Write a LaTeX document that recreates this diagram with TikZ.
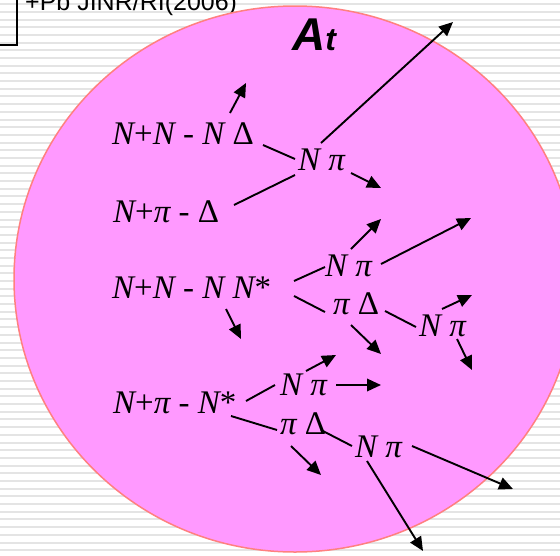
\documentclass[tikz,border=0pt]{standalone}
\usepackage{fontspec}
\setmainfont{Liberation Serif}
\newfontfamily\arialfont{Liberation Sans}
\usetikzlibrary{arrows.meta}
\definecolor{pinkfill}{RGB}{255,153,255}
\definecolor{rimcol}{RGB}{255,128,128}
\definecolor{stripecol}{RGB}{228,228,228}
\newcommand{\iN}{{\itshape N}}
\newcommand{\ipi}{{\itshape π}}
\begin{document}
\begin{tikzpicture}[x=1pt,y=-1pt,
  lbl/.style={anchor=base west, inner sep=0pt, font=\fontsize{33}{38}\selectfont},
  con/.style={line width=1.9pt},
  arr/.style={line width=1.9pt, -{Triangle[length=14pt,width=12.5pt]}}]
\useasboundingbox (0,0) rectangle (560,555);
\fill[white] (0,0) rectangle (560,555);
\foreach \k in {0,...,71} \fill[stripecol] (0,{3.2+7.69*\k}) rectangle (560,{5.2+7.69*\k});
% corner box and title
\draw[line width=1.5pt] (-10,-10) rectangle (17,45);
\node[anchor=base west, inner sep=0pt, font=\arialfont\fontsize{25}{30}\selectfont] (ref) at (25,10) {+Pb JINR/RI(2006)};
% nucleus
\draw[rimcol, fill=pinkfill, line width=1.5pt] (295,279) ellipse [x radius=281pt, y radius=273pt];
\node[anchor=base west, inner sep=0pt, font=\arialfont\bfseries\itshape\fontsize{46}{50}\selectfont] (At) at (292,50) {A\fontsize{32}{34}\selectfont t};
% labels
\node[lbl] (l1) at (112,144) {\iN+\iN\ - \iN\ Δ};
\node[lbl] (np1) at (298,170) {\iN\ \ipi};
\node[lbl] (l2) at (113,222) {\iN+\ipi\ - Δ};
\node[lbl] (l3) at (112,298) {\iN+\iN\ - \iN\ \iN*};
\node[lbl] (np2) at (325,276) {\iN\ \ipi};
\node[lbl] (pd2) at (333,314) {\ipi\ Δ};
\node[lbl] (np3) at (419,336) {\iN\ \ipi};
\node[lbl] (l4) at (113,413) {\iN+\ipi\ - \iN*};
\node[lbl] (np4) at (280,395) {\iN\ \ipi};
\node[lbl] (pd4) at (280,434) {\ipi\ Δ};
\node[lbl] (np5) at (355,457) {\iN\ \ipi};
% group 1
\draw[arr] (230,113) coordinate (a1s) -- (246,83) coordinate (a1e);
\draw[con] (263,145) coordinate (c1s) -- (295,159) coordinate (c1e);
\draw[con] (234,205) coordinate (c2s) -- (295,175) coordinate (c2e);
\draw[arr] (321,143) coordinate (a2s) -- (453,22) coordinate (a2e);
\draw[arr] (351,173) coordinate (a3s) -- (381,188) coordinate (a3e);
% group 2
\draw[arr] (226,309) coordinate (a4s) -- (241,339) coordinate (a4e);
\draw[con] (294,281) coordinate (c3s) -- (325,267) coordinate (c3e);
\draw[arr] (351,249) coordinate (a5s) -- (381,219) coordinate (a5e);
\draw[arr] (381,264) coordinate (a6s) -- (471,218) coordinate (a6e);
\draw[con] (294,296) coordinate (c4s) -- (325,312) coordinate (c4e);
\draw[arr] (351,325) coordinate (a7s) -- (381,354) coordinate (a7e);
\draw[con] (385,311) coordinate (c5s) -- (416,327) coordinate (c5e);
\draw[arr] (442,309) coordinate (a8s) -- (472,295) coordinate (a8e);
\draw[arr] (457,339) coordinate (a9s) -- (472,370) coordinate (a9e);
% group 3
\draw[con] (246,401) coordinate (c6s) -- (275,385) coordinate (c6e);
\draw[arr] (306,371) coordinate (a10s) -- (336,355) coordinate (a10e);
\draw[arr] (336,385) coordinate (a11s) -- (381,385) coordinate (a11e);
\draw[con] (231,416) coordinate (c7s) -- (277,430) coordinate (c7e);
\draw[arr] (291,446) coordinate (a12s) -- (321,475) coordinate (a12e);
\draw[con] (321,430) coordinate (c8s) -- (352,446) coordinate (c8e);
\draw[arr] (412,446) coordinate (a13s) -- (513,489) coordinate (a13e);
\draw[arr] (367,461) coordinate (a14s) -- (423,551) coordinate (a14e);
\end{tikzpicture}
\end{document}
